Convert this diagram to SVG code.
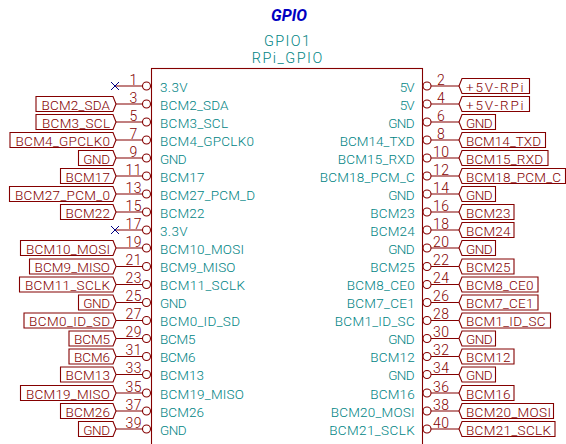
<svg xmlns="http://www.w3.org/2000/svg" width="566" height="444" viewBox="0 0 566 444">
<style>
text{font-family:"Roboto","Liberation Sans",sans-serif;font-size:13.5px;font-weight:300}
.w{fill:none;stroke:#840000;stroke-width:1.1}
.b{fill:#fff;stroke:#840000;stroke-width:1.1}
.nc{fill:none;stroke:#000084;stroke-width:1}
.pn{fill:#840000;text-anchor:middle;font-size:14px}
.lb{fill:#840000}
.le{text-anchor:end}
.nl{fill:#008484}
.nr{fill:#008484;text-anchor:end}
.ref{fill:#008484;font-size:14.5px;text-anchor:middle}
.title{fill:#0000c2;font-weight:700;font-style:italic;font-size:16px;text-anchor:middle}
</style>
<text id="title" class="title" x="289" y="20.5" textLength="36">GPIO</text>
<g id="connectors">
<path class="w" d="M116 104H142.5M116 122H142.5M116 140H142.5M116 158H142.5M116 176H142.5M116 194H142.5M116 212H142.5M116 248H142.5M116 266.5H142.5M116 284.5H142.5M116 302.5H142.5M116 320.5H142.5M116 338.5H142.5M116 356.5H142.5M116 374.5H142.5M116 393H142.5M116 411H142.5M116 429H142.5"/>
<path class="w" d="M115 86H142.5M115 230H142.5"/>
<path class="w" d="M431 86H459M431 104H459M431 122H459M431 140H459M431 158H459M431 176H459M431 194H459M431 212H459M431 230H459M431 248H459M431 266.5H459M431 284.5H459M431 302.5H459M431 320.5H459M431 338.5H459M431 356.5H459M431 374.5H459M431 393H459M431 411H459M431 429H459"/>
<path class="nc" d="M111 82L119 90M111 90L119 82M111 226L119 234M111 234L119 226"/>
</g>
<g id="GPIO1">
<rect class="w" x="151.5" y="68.5" width="271" height="400"/>
<text class="ref" x="287" y="45.5" textLength="46">GPIO1</text>
<text class="ref" x="287" y="62.5" textLength="70.5">RPi_GPIO</text>
<g id="pin-circles-left" class="w">
<circle cx="146.5" cy="86" r="4"/><circle cx="146.5" cy="104" r="4"/><circle cx="146.5" cy="122" r="4"/><circle cx="146.5" cy="140" r="4"/><circle cx="146.5" cy="158" r="4"/><circle cx="146.5" cy="176" r="4"/><circle cx="146.5" cy="194" r="4"/><circle cx="146.5" cy="212" r="4"/><circle cx="146.5" cy="230" r="4"/><circle cx="146.5" cy="248" r="4"/><circle cx="146.5" cy="266.5" r="4"/><circle cx="146.5" cy="284.5" r="4"/><circle cx="146.5" cy="302.5" r="4"/><circle cx="146.5" cy="320.5" r="4"/><circle cx="146.5" cy="338.5" r="4"/><circle cx="146.5" cy="356.5" r="4"/><circle cx="146.5" cy="374.5" r="4"/><circle cx="146.5" cy="393" r="4"/><circle cx="146.5" cy="411" r="4"/><circle cx="146.5" cy="429" r="4"/>
</g>
<g id="pin-circles-right" class="w">
<circle cx="427" cy="86" r="4"/><circle cx="427" cy="104" r="4"/><circle cx="427" cy="122" r="4"/><circle cx="427" cy="140" r="4"/><circle cx="427" cy="158" r="4"/><circle cx="427" cy="176" r="4"/><circle cx="427" cy="194" r="4"/><circle cx="427" cy="212" r="4"/><circle cx="427" cy="230" r="4"/><circle cx="427" cy="248" r="4"/><circle cx="427" cy="266.5" r="4"/><circle cx="427" cy="284.5" r="4"/><circle cx="427" cy="302.5" r="4"/><circle cx="427" cy="320.5" r="4"/><circle cx="427" cy="338.5" r="4"/><circle cx="427" cy="356.5" r="4"/><circle cx="427" cy="374.5" r="4"/><circle cx="427" cy="393" r="4"/><circle cx="427" cy="411" r="4"/><circle cx="427" cy="429" r="4"/>
</g>
<g id="pin-numbers-left">
<text class="pn" x="133.5" y="84.5">1</text><text class="pn" x="133.5" y="102.5">3</text><text class="pn" x="133.5" y="120.5">5</text><text class="pn" x="133.5" y="138.5">7</text><text class="pn" x="133.5" y="156.5">9</text><text class="pn" x="133.5" y="174.5" textLength="16">11</text><text class="pn" x="133.5" y="192.5" textLength="16">13</text><text class="pn" x="133.5" y="210.5" textLength="16">15</text><text class="pn" x="133.5" y="228.5" textLength="16">17</text><text class="pn" x="133.5" y="246.5" textLength="16">19</text><text class="pn" x="133.5" y="265" textLength="16">21</text><text class="pn" x="133.5" y="283" textLength="16">23</text><text class="pn" x="133.5" y="301" textLength="16">25</text><text class="pn" x="133.5" y="319" textLength="16">27</text><text class="pn" x="133.5" y="337" textLength="16">29</text><text class="pn" x="133.5" y="355" textLength="16">31</text><text class="pn" x="133.5" y="373" textLength="16">33</text><text class="pn" x="133.5" y="391.5" textLength="16">35</text><text class="pn" x="133.5" y="409.5" textLength="16">37</text><text class="pn" x="133.5" y="427.5" textLength="16">39</text>
</g>
<g id="pin-numbers-right">
<text class="pn" x="441" y="84.5">2</text><text class="pn" x="441" y="102.5">4</text><text class="pn" x="441" y="120.5">6</text><text class="pn" x="441" y="138.5">8</text><text class="pn" x="441" y="156.5" textLength="16">10</text><text class="pn" x="441" y="174.5" textLength="16">12</text><text class="pn" x="441" y="192.5" textLength="16">14</text><text class="pn" x="441" y="210.5" textLength="16">16</text><text class="pn" x="441" y="228.5" textLength="16">18</text><text class="pn" x="441" y="246.5" textLength="16">20</text><text class="pn" x="441" y="265" textLength="16">22</text><text class="pn" x="441" y="283" textLength="16">24</text><text class="pn" x="441" y="301" textLength="16">26</text><text class="pn" x="441" y="319" textLength="16">28</text><text class="pn" x="441" y="337" textLength="16">30</text><text class="pn" x="441" y="355" textLength="16">32</text><text class="pn" x="441" y="373" textLength="16">34</text><text class="pn" x="441" y="391.5" textLength="16">36</text><text class="pn" x="441" y="409.5" textLength="16">38</text><text class="pn" x="441" y="427.5" textLength="16">40</text>
</g>
<g id="pin-names-left">
<text class="nl" x="160" y="91.5" textLength="27.7">3.3V</text>
<text class="nl" x="160" y="109.5" textLength="68.5">BCM2_SDA</text>
<text class="nl" x="160" y="127.5" textLength="68">BCM3_SCL</text>
<text class="nl" x="160" y="145.5" textLength="94">BCM4_GPCLK0</text>
<text class="nl" x="160" y="163.5" textLength="26.7">GND</text>
<text class="nl" x="160" y="181.5" textLength="44.5">BCM17</text>
<text class="nl" x="160" y="199.5" textLength="95">BCM27_PCM_D</text>
<text class="nl" x="160" y="217.5" textLength="44.5">BCM22</text>
<text class="nl" x="160" y="235.5" textLength="27.7">3.3V</text>
<text class="nl" x="160" y="253.5" textLength="84">BCM10_MOSI</text>
<text class="nl" x="160" y="272" textLength="75.5">BCM9_MISO</text>
<text class="nl" x="160" y="290" textLength="85">BCM11_SCLK</text>
<text class="nl" x="160" y="308" textLength="26.7">GND</text>
<text class="nl" x="160" y="326" textLength="80">BCM0_ID_SD</text>
<text class="nl" x="160" y="344" textLength="35.5">BCM5</text>
<text class="nl" x="160" y="362" textLength="35.5">BCM6</text>
<text class="nl" x="160" y="380" textLength="44">BCM13</text>
<text class="nl" x="160" y="398.5" textLength="84">BCM19_MISO</text>
<text class="nl" x="160" y="416.5" textLength="44">BCM26</text>
<text class="nl" x="160" y="434.5" textLength="26.7">GND</text>
</g>
<g id="pin-names-right">
<text class="nr" x="414.7" y="91.5" textLength="15">5V</text>
<text class="nr" x="414.7" y="109.5" textLength="15">5V</text>
<text class="nr" x="414.7" y="127.5" textLength="26.5">GND</text>
<text class="nr" x="414.7" y="145.5" textLength="75">BCM14_TXD</text>
<text class="nr" x="414.7" y="163.5" textLength="77">BCM15_RXD</text>
<text class="nr" x="414.7" y="181.5" textLength="95">BCM18_PCM_C</text>
<text class="nr" x="414.7" y="199.5" textLength="26.5">GND</text>
<text class="nr" x="414.7" y="217.5" textLength="44.5">BCM23</text>
<text class="nr" x="414.7" y="235.5" textLength="44.5">BCM24</text>
<text class="nr" x="414.7" y="253.5" textLength="26.5">GND</text>
<text class="nr" x="414.7" y="272" textLength="44.5">BCM25</text>
<text class="nr" x="414.7" y="290" textLength="68">BCM8_CE0</text>
<text class="nr" x="414.7" y="308" textLength="68">BCM7_CE1</text>
<text class="nr" x="414.7" y="326" textLength="80">BCM1_ID_SC</text>
<text class="nr" x="414.7" y="344" textLength="26.5">GND</text>
<text class="nr" x="414.7" y="362" textLength="44.5">BCM12</text>
<text class="nr" x="414.7" y="380" textLength="26.5">GND</text>
<text class="nr" x="414.7" y="398.5" textLength="44.5">BCM16</text>
<text class="nr" x="414.7" y="416.5" textLength="84">BCM20_MOSI</text>
<text class="nr" x="414.7" y="434.5" textLength="85.5">BCM21_SCLK</text>
</g>
</g>
<g id="label-3"><path class="b" d="M36 96.5H113L116 104L113 111.5H36Z"/><text class="lb le" x="110" y="109.5" textLength="68.5">BCM2_SDA</text></g>
<g id="label-5"><path class="b" d="M36 114.5H113L116 122L113 129.5H36Z"/><text class="lb le" x="110" y="127.5" textLength="68">BCM3_SCL</text></g>
<g id="label-7"><path class="b" d="M10 132.5H113L116 140L113 147.5H10Z"/><text class="lb le" x="110" y="145.5" textLength="94.5">BCM4_GPCLK0</text></g>
<g id="label-9"><path class="b" d="M78.5 150.5H113L116 158L113 165.5H78.5Z"/><text class="lb le" x="110" y="163.5" textLength="26.7">GND</text></g>
<g id="label-11"><path class="b" d="M60.5 168.5H113L116 176L113 183.5H60.5Z"/><text class="lb le" x="110" y="181.5" textLength="44.5">BCM17</text></g>
<g id="label-13"><path class="b" d="M9.5 186.5H113L116 194L113 201.5H9.5Z"/><text class="lb le" x="110" y="199.5" textLength="95">BCM27_PCM_0</text></g>
<g id="label-15"><path class="b" d="M60.5 204.5H113L116 212L113 219.5H60.5Z"/><text class="lb le" x="110" y="217.5" textLength="44.5">BCM22</text></g>
<g id="label-19"><path class="b" d="M20.5 240.5H113L116 248L113 255.5H20.5Z"/><text class="lb le" x="110" y="253.5" textLength="84">BCM10_MOSI</text></g>
<g id="label-21"><path class="b" d="M29.5 259H113L116 266.5L113 274H29.5Z"/><text class="lb le" x="110" y="272" textLength="75.5">BCM9_MISO</text></g>
<g id="label-23"><path class="b" d="M19.5 277H113L116 284.5L113 292H19.5Z"/><text class="lb le" x="110" y="290" textLength="85">BCM11_SCLK</text></g>
<g id="label-25"><path class="b" d="M78.5 295H113L116 302.5L113 310H78.5Z"/><text class="lb le" x="110" y="308" textLength="26.7">GND</text></g>
<g id="label-27"><path class="b" d="M24 313H113L116 320.5L113 328H24Z"/><text class="lb le" x="110" y="326" textLength="81">BCM0_ID_SD</text></g>
<g id="label-29"><path class="b" d="M69 331H113L116 338.5L113 346H69Z"/><text class="lb le" x="110" y="344" textLength="36">BCM5</text></g>
<g id="label-31"><path class="b" d="M69 349H113L116 356.5L113 364H69Z"/><text class="lb le" x="110" y="362" textLength="36">BCM6</text></g>
<g id="label-33"><path class="b" d="M60.5 367H113L116 374.5L113 382H60.5Z"/><text class="lb le" x="110" y="380" textLength="44.5">BCM13</text></g>
<g id="label-35"><path class="b" d="M20.5 385.5H113L116 393L113 400.5H20.5Z"/><text class="lb le" x="110" y="398.5" textLength="84">BCM19_MISO</text></g>
<g id="label-37"><path class="b" d="M60.5 403.5H113L116 411L113 418.5H60.5Z"/><text class="lb le" x="110" y="416.5" textLength="44.5">BCM26</text></g>
<g id="label-39"><path class="b" d="M78.5 421.5H113L116 429L113 436.5H78.5Z"/><text class="lb le" x="110" y="434.5" textLength="26.7">GND</text></g>
<g id="label-2"><path class="b" d="M459 86L462 78.5H529.5V93.5H462Z"/><text class="lb" x="466" y="91.5" textLength="57.5">+5V-RPi</text></g>
<g id="label-4"><path class="b" d="M459 104L462 96.5H529.5V111.5H462Z"/><text class="lb" x="466" y="109.5" textLength="57.5">+5V-RPi</text></g>
<g id="label-6"><path class="b" d="M459 122L462 114.5H495.5V129.5H462Z"/><text class="lb" x="466" y="127.5" textLength="26.5">GND</text></g>
<g id="label-8"><path class="b" d="M459 140L462 132.5H545.5V147.5H462Z"/><text class="lb" x="466" y="145.5" textLength="75">BCM14_TXD</text></g>
<g id="label-10"><path class="b" d="M459 158L462 150.5H548V165.5H462Z"/><text class="lb" x="466" y="163.5" textLength="77">BCM15_RXD</text></g>
<g id="label-12"><path class="b" d="M459 176L462 168.5H565.5V183.5H462Z"/><text class="lb" x="466" y="181.5" textLength="95">BCM18_PCM_C</text></g>
<g id="label-14"><path class="b" d="M459 194L462 186.5H495.5V201.5H462Z"/><text class="lb" x="466" y="199.5" textLength="26.5">GND</text></g>
<g id="label-16"><path class="b" d="M459 212L462 204.5H514V219.5H462Z"/><text class="lb" x="466" y="217.5" textLength="44.5">BCM23</text></g>
<g id="label-18"><path class="b" d="M459 230L462 222.5H514V237.5H462Z"/><text class="lb" x="466" y="235.5" textLength="44.5">BCM24</text></g>
<g id="label-20"><path class="b" d="M459 248L462 240.5H495.5V255.5H462Z"/><text class="lb" x="466" y="253.5" textLength="26.5">GND</text></g>
<g id="label-22"><path class="b" d="M459 266.5L462 259H514V274H462Z"/><text class="lb" x="466" y="272" textLength="44.5">BCM25</text></g>
<g id="label-24"><path class="b" d="M459 284.5L462 277H538V292H462Z"/><text class="lb" x="466" y="290" textLength="67.5">BCM8_CE0</text></g>
<g id="label-26"><path class="b" d="M459 302.5L462 295H538V310H462Z"/><text class="lb" x="466" y="308" textLength="67.5">BCM7_CE1</text></g>
<g id="label-28"><path class="b" d="M459 320.5L462 313H550.5V328H462Z"/><text class="lb" x="466" y="326" textLength="79.5">BCM1_ID_SC</text></g>
<g id="label-30"><path class="b" d="M459 338.5L462 331H495.5V346H462Z"/><text class="lb" x="466" y="344" textLength="26.5">GND</text></g>
<g id="label-32"><path class="b" d="M459 356.5L462 349H514V364H462Z"/><text class="lb" x="466" y="362" textLength="44.5">BCM12</text></g>
<g id="label-34"><path class="b" d="M459 374.5L462 367H495.5V382H462Z"/><text class="lb" x="466" y="380" textLength="26.5">GND</text></g>
<g id="label-36"><path class="b" d="M459 393L462 385.5H514V400.5H462Z"/><text class="lb" x="466" y="398.5" textLength="44.5">BCM16</text></g>
<g id="label-38"><path class="b" d="M459 411L462 403.5H553.5V418.5H462Z"/><text class="lb" x="466" y="416.5" textLength="85">BCM20_MOSI</text></g>
<g id="label-40"><path class="b" d="M459 429L462 421.5H555V436.5H462Z"/><text class="lb" x="466" y="434.5" textLength="85">BCM21_SCLK</text></g>
</svg>
